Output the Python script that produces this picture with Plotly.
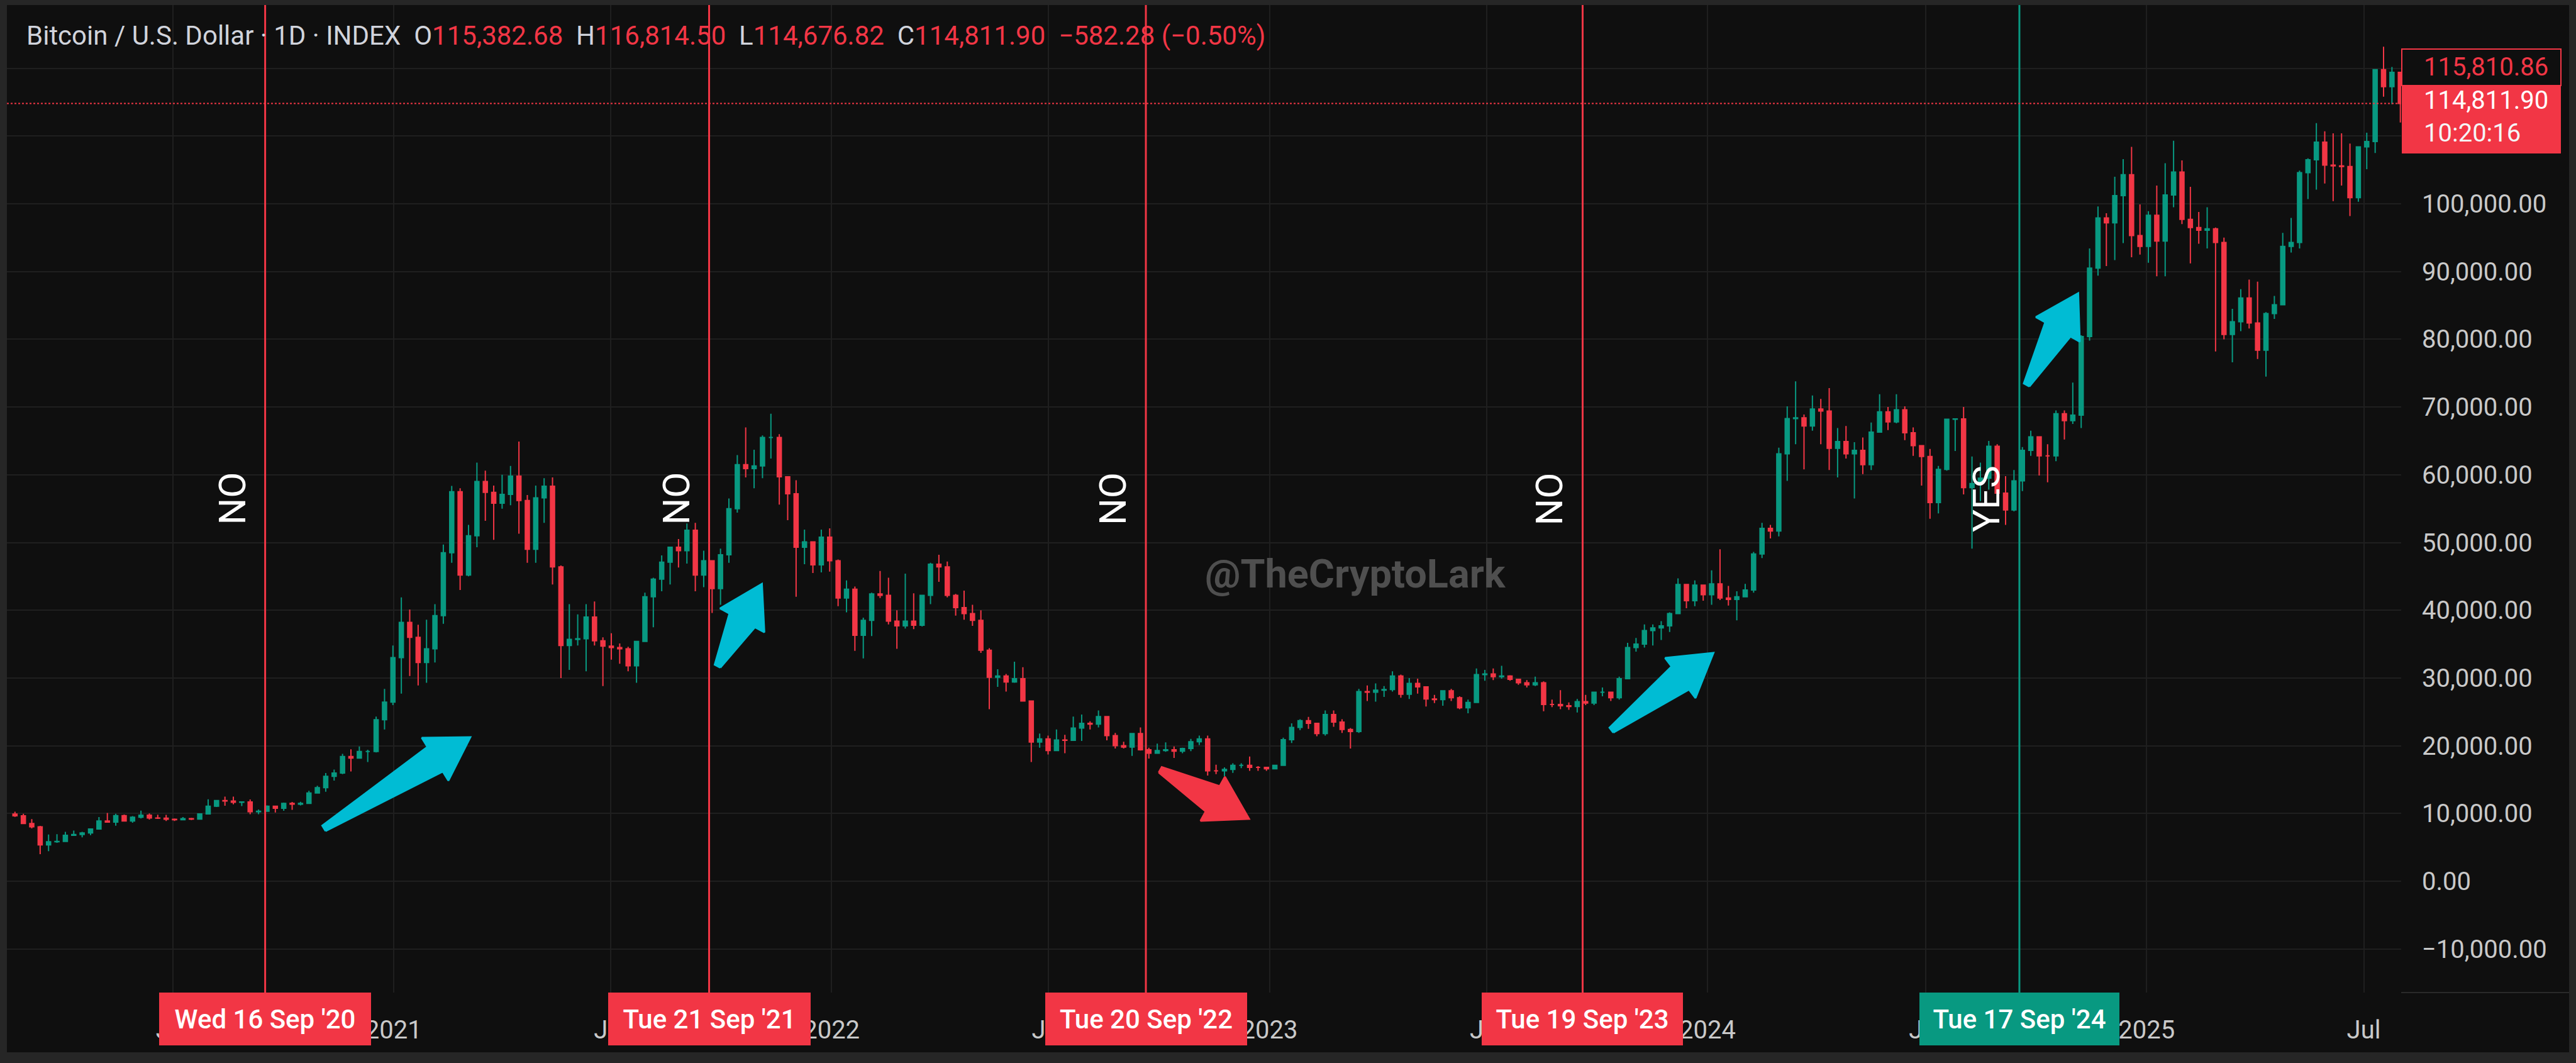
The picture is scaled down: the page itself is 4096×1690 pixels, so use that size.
import pandas as pd
import plotly.graph_objects as go

# ---------------- data (weekly candles) ----------------
week_start = "2020-02-17"
first_open = 9910

close_2020 = [9660, 8530, 8030, 5370, 5830, 5880, 6770, 6900, 7120, 7700, 8900, 8720, 9680, 8900, 9450,
              9750, 9340, 9300, 9150, 9070, 9230, 9180, 9930, 11070, 11900, 11850, 11650, 11700, 10250,
              10330, 11080, 10780, 11500, 11380, 11500, 13030, 13800, 15480, 15960, 18410, 18180, 19150,
              19150, 23850, 26450, 33000]
high_2020 = [10250, 9950, 9180, 8170, 6900, 6950, 7290, 7470, 7300, 7780, 9470, 10070, 9950, 9850, 9600,
             10430, 10000, 9830, 9790, 9270, 9460, 9350, 10030, 12100, 12000, 12480, 12480, 11800, 12080,
             10580, 11180, 10980, 11600, 11700, 11720, 13340, 14100, 15960, 16480, 18800, 19480, 19900,
             19400, 24300, 28400, 34800]
low_2020 = [9500, 8450, 7800, 4000, 4440, 5670, 5860, 6770, 6470, 6800, 7650, 8660, 8200, 8800, 8640,
            9260, 9100, 9200, 8900, 8900, 9050, 9040, 9130, 9900, 10950, 11150, 11350, 11100, 9900,
            9880, 10250, 10150, 10400, 10550, 11200, 11400, 12980, 13200, 14850, 15800, 16200, 18200,
            17600, 19000, 22400, 26000]

close_2021 = [38200, 36000, 32300, 34300, 39200, 48500, 57500, 45200, 51000, 59000, 57400, 55800, 57100,
              59800, 56200, 49000, 56600, 58300, 46400, 34800, 35700, 35800, 39000, 35500, 34700, 34500,
              34300, 31800, 35400, 42000, 44600, 47100, 49300, 48800, 51800, 45200, 47300, 43200, 48200,
              55000, 61500, 60900, 61300, 65500, 65500, 59700, 57200, 49300, 50100, 46700, 50800, 47300]
high_2021 = [41900, 40100, 37850, 38600, 40900, 49700, 58350, 58000, 52600, 61800, 60600, 58400, 60000,
             61300, 64900, 57000, 58400, 59500, 59600, 46600, 40900, 39400, 40900, 41300, 36000, 36600,
             35100, 34600, 35400, 42600, 44800, 48100, 49400, 50500, 52800, 52900, 48800, 45200, 49100,
             56500, 62900, 67000, 63700, 65800, 69000, 66000, 59400, 59200, 51900, 49500, 51900, 52100]
low_2021 = [27700, 30300, 28900, 29300, 32300, 38000, 47000, 43000, 45000, 49300, 53200, 50400, 55000,
            55500, 51300, 47000, 47000, 52900, 43800, 30000, 31200, 34800, 31000, 34800, 28800, 32700,
            32100, 31000, 29300, 35300, 37500, 42800, 43800, 46300, 46900, 42800, 43400, 39600, 40800,
            47000, 54400, 59600, 58000, 59500, 62400, 55600, 53300, 42000, 46800, 45500, 45600, 45700]

close_2022 = [41800, 43100, 36300, 38500, 42400, 42200, 38400, 37700, 38400, 37800, 42200, 46800, 46400,
              42200, 40400, 39500, 38500, 34100, 30100, 30300, 29400, 29900, 26600, 20550, 21000, 19300,
              20850, 20800, 22600, 23300, 23200, 24300, 21500, 20000, 19800, 21800, 19400, 18900, 19300,
              19400, 19200, 19600, 20600, 21000, 16300, 16300, 16500, 17100, 17100, 16800, 16800, 16600]
high_2022 = [47500, 44400, 43500, 38900, 42600, 45800, 44800, 40000, 45400, 42500, 42300, 47000, 48200,
             47200, 42400, 42900, 40800, 40000, 34400, 31300, 30600, 32400, 31600, 26700, 21800, 21500,
             22400, 21600, 24300, 24600, 23600, 25200, 24400, 21900, 20600, 21800, 22700, 19700, 20300,
             20500, 19900, 19700, 21000, 21500, 21500, 17200, 16800, 17400, 17400, 18400, 17000, 16900]
low_2022 = [40600, 39700, 34000, 32900, 36200, 41800, 37900, 34300, 37300, 37200, 37600, 40900, 44200,
            41900, 39200, 38600, 37700, 33700, 25400, 28700, 28000, 29300, 26500, 17600, 19700, 18700,
            19300, 18900, 21000, 20700, 22400, 22700, 20800, 19600, 19600, 18500, 19300, 18100, 18800,
            19100, 18200, 18900, 19200, 20100, 15600, 15800, 15500, 16000, 16700, 16300, 16300, 16300]

close_2023 = [17100, 20900, 22700, 23700, 23300, 21800, 24600, 23500, 22400, 22100, 28000, 27900, 28200,
              28300, 30300, 27600, 29200, 28700, 26900, 26800, 28100, 27100, 25600, 26400, 30500, 30600,
              30200, 30300, 29800, 29300, 29000, 29300, 26100, 26100, 25900, 25800, 26500, 26300, 27900,
              27900, 27100, 29900, 34500, 35000, 37000, 37400, 37700, 39500, 43800, 41400, 43700, 42300]
high_2023 = [17200, 21200, 23300, 23900, 24250, 23400, 25200, 25200, 23900, 22600, 28400, 28900, 29200,
             28800, 31000, 30500, 30000, 29900, 28000, 27500, 28200, 28400, 27300, 26800, 31400, 31200,
             31400, 31800, 30400, 29900, 29700, 30200, 29500, 26800, 28200, 26400, 26900, 27500, 28000,
             28600, 28000, 30200, 35200, 35900, 37900, 37900, 38400, 39700, 44700, 43400, 44400, 43800]
low_2023 = [16500, 17100, 20400, 22300, 22500, 21400, 21500, 22800, 21900, 19600, 21900, 26600, 26500,
            27200, 28000, 27100, 26900, 27700, 25800, 26300, 25900, 26600, 25400, 24800, 26300, 29600,
            29700, 29900, 29600, 29000, 28600, 28800, 25100, 25700, 25400, 25300, 24900, 26000, 26000,
            27300, 26600, 26800, 29900, 33900, 34500, 34800, 35600, 36800, 39500, 40300, 40600, 41400]

close_2024 = [43900, 41800, 41600, 42000, 43000, 48300, 52100, 51700, 63100, 68300, 68400, 67200, 69700,
              69400, 63900, 64900, 63100, 63600, 61500, 66300, 69300, 67800, 69600, 66200, 64300, 62700,
              55900, 60800, 68200, 68250, 58100, 58700, 59500, 64200, 57300, 54800, 59100, 63600, 65600,
              62800, 62800, 69000, 68000, 68800, 80400, 90500, 97900, 97200, 101200, 104300, 95300,
              93700, 98300]
high_2024 = [45900, 49000, 43600, 42800, 43900, 48600, 52900, 52600, 64000, 70100, 73800, 68900, 71700,
             71200, 72800, 66900, 67200, 64800, 65500, 67700, 71900, 70000, 71900, 70100, 67000, 63400,
             63800, 61300, 68300, 68300, 70000, 62700, 61800, 65000, 64500, 59800, 60700, 64100, 66500,
             65400, 64500, 69500, 69500, 73600, 80600, 93400, 99600, 98600, 104000, 106600, 108400,
             99900, 98900]
low_2024 = [40800, 41500, 40700, 38500, 41900, 42600, 47700, 50600, 50900, 59100, 64500, 60800, 66500,
            64500, 60700, 59600, 62400, 56500, 60100, 60700, 66600, 66600, 67600, 65100, 62800, 58400,
            53500, 54300, 60600, 63500, 57100, 49100, 56100, 57800, 57200, 52600, 54600, 57600, 62800,
            59900, 58900, 62000, 65200, 67500, 66900, 79800, 89400, 90800, 91700, 94200, 92100,
            92500, 91300]

close_2025 = [94500, 101300, 104700, 97700, 96500, 96100, 96300, 94300, 80700, 82600, 86100, 82400, 78400,
              83800, 85100, 93700, 94300, 104600, 106500, 109100, 105700, 105600, 105500, 100900, 108400,
              109200, 119800, 117300, 119400, 114811.90]
high_2025 = [102700, 106000, 109300, 106400, 102500, 98800, 99500, 96500, 95000, 84500, 87400, 88800, 88500,
             84000, 86400, 95700, 97900, 104900, 106700, 111900, 110700, 110400, 110400, 108900, 108500,
             110500, 119900, 123200, 120200, 119300]
low_2025 = [89300, 89300, 99500, 97000, 91200, 94100, 93400, 78200, 80000, 76600, 81200, 81600, 77100,
            74500, 83000, 85100, 92800, 93400, 100700, 102100, 103000, 100400, 102700, 98200, 100300,
            105100, 107500, 115800, 114700, 112000]

# event markers
event_dates = ["2020-09-16", "2021-09-21", "2022-09-20", "2023-09-19", "2024-09-17"]
event_labels = ["Wed 16 Sep '20", "Tue 21 Sep '21", "Tue 20 Sep '22", "Tue 19 Sep '23", "Tue 17 Sep '24"]
event_verdicts = ["NO", "NO", "NO", "NO", "YES"]
event_good = [False, False, False, False, True]

# drawn arrows (tail -> tip)
arrow_tail_dates = ["2020-11-04", "2021-09-28", "2022-10-02", "2023-10-13", "2024-09-23"]
arrow_tail_prices = [7800, 31750, 16450, 22300, 73250]
arrow_tip_dates = ["2021-03-06", "2021-11-04", "2022-12-15", "2024-01-06", "2024-11-05"]
arrow_tip_prices = [21250, 43900, 9200, 33700, 86800]
arrow_up = [True, True, False, True, True]

# axis ticks
x_tick_dates = ["2020-07-01", "2021-01-01", "2021-07-01", "2022-01-01", "2022-07-01", "2023-01-01",
                "2023-07-01", "2024-01-01", "2024-07-01", "2025-01-01", "2025-07-01"]
x_tick_text = ["Jul", "2021", "Jul", "2022", "Jul", "2023", "Jul", "2024", "Jul", "2025", "Jul"]
y_tick_vals = list(range(-10000, 130000, 10000))

# header / price labels
symbol_text = "Bitcoin / U.S. Dollar · 1D · INDEX"
ohlc_open, ohlc_high, ohlc_low, ohlc_close = "115,382.68", "116,814.50", "114,676.82", "114,811.90"
change_text = "−582.28 (−0.50%)"
line_price = 114811.90
upper_label = "115,810.86"
countdown = "10:20:16"
watermark = "@TheCryptoLark"

# ---------------- style / geometry ----------------
W, H = 4096, 1690
L, R, T, B = 11, 3818, 8, 1578          # plot area in pixels
PX_PER_DAY = 1.9079
ANCHOR_DATE, ANCHOR_PX = pd.Timestamp("2020-09-16"), 421.6
PX_PER_10K = 107.7
ZERO_PY = 1401.0
DATE_BOX_W = [337, 322, 321, 320, 318]
DATE_BOX_H = 84

RED, GREEN, CYAN = "#f23645", "#089981", "#00bcd4"
BG, FRAME, GRID, TXT = "#0f0f0f", "#262626", "#1f1f1f", "#c9c9c9"
FONT = "Roboto"

x0 = ANCHOR_DATE - pd.Timedelta(days=(ANCHOR_PX - L) / PX_PER_DAY)
x1 = x0 + pd.Timedelta(days=(R - L) / PX_PER_DAY)
y1 = (ZERO_PY - T) / PX_PER_10K * 10000
y0 = -(B - ZERO_PY) / PX_PER_10K * 10000


def px_to_date(px):
    return x0 + pd.Timedelta(days=(px - L) / PX_PER_DAY)


def date_to_px(d):
    return L + (pd.Timestamp(d) - x0) / pd.Timedelta(days=1) * PX_PER_DAY


def price_to_py(p):
    return B - (p - y0) / (y1 - y0) * (B - T)


def py_to_price(py):
    return y0 + (B - py) / (B - T) * (y1 - y0)


def xp(px):
    return (px - L) / (R - L)


def yp(py):
    return (B - py) / (B - T)


# ---------------- assemble candles ----------------
closes = close_2020 + close_2021 + close_2022 + close_2023 + close_2024 + close_2025
highs = high_2020 + high_2021 + high_2022 + high_2023 + high_2024 + high_2025
lows = low_2020 + low_2021 + low_2022 + low_2023 + low_2024 + low_2025
opens = [first_open] + closes[:-1]
highs = [max(h, o, c) for h, o, c in zip(highs, opens, closes)]
lows = [min(l, o, c) for l, o, c in zip(lows, opens, closes)]
dates = pd.date_range(week_start, periods=len(closes), freq="7D") + pd.Timedelta(hours=84)

fig = go.Figure()

# arrows
for td, tp, hd, hp, up in zip(arrow_tail_dates, arrow_tail_prices, arrow_tip_dates, arrow_tip_prices, arrow_up):
    tx, ty = date_to_px(td), price_to_py(tp)
    hx, hy = date_to_px(hd), price_to_py(hp)
    dx, dy = hx - tx, hy - ty
    ln = (dx * dx + dy * dy) ** 0.5
    ux, uy = dx / ln, dy / ln
    nx, ny = -uy, ux
    hl, hw, nw, tw = 66, 40, 23, 5
    kx, ky = hx - ux * hl, hy - uy * hl
    pts = [(tx + nx * tw, ty + ny * tw), (kx + nx * nw, ky + ny * nw), (kx + nx * hw, ky + ny * hw),
           (hx, hy), (kx - nx * hw, ky - ny * hw), (kx - nx * nw, ky - ny * nw),
           (tx - nx * tw, ty - ny * tw), (tx + nx * tw, ty + ny * tw)]
    col = CYAN if up else RED
    fig.add_trace(go.Scatter(x=[px_to_date(p[0]) for p in pts], y=[py_to_price(p[1]) for p in pts],
                             mode="lines", fill="toself", fillcolor=col,
                             line=dict(color=col, width=3), hoverinfo="skip", showlegend=False))

fig.add_trace(go.Candlestick(
    x=dates, open=opens, high=highs, low=lows, close=closes,
    increasing=dict(line=dict(color=GREEN, width=2), fillcolor=GREEN),
    decreasing=dict(line=dict(color=RED, width=2), fillcolor=RED),
    whiskerwidth=0, hoverinfo="skip", showlegend=False))

shapes = []
annotations = []

# background panel (frame is the paper colour)
shapes.append(dict(type="rect", xref="paper", yref="paper", x0=xp(L), x1=xp(4085), y0=yp(1673), y1=yp(T),
                   fillcolor=BG, line=dict(width=0), layer="below"))
shapes.append(dict(type="line", xref="paper", yref="paper", x0=xp(R), x1=xp(4085), y0=0, y1=0,
                   line=dict(color="#2a2a2a", width=2), layer="above"))

# event lines, date boxes and verdict texts
for d, lab, verdict, good, bw in zip(event_dates, event_labels, event_verdicts, event_good, DATE_BOX_W):
    col = GREEN if good else RED
    shapes.append(dict(type="line", xref="x", yref="paper", x0=d, x1=d, y0=0, y1=1,
                       line=dict(color=col, width=3), layer="above"))
    annotations.append(dict(x=d, xref="x", y=yp(1620), yref="paper", text=lab, showarrow=False,
                            xanchor="center", yanchor="middle", bgcolor=col, borderpad=0, borderwidth=0,
                            width=bw, height=DATE_BOX_H, align="center", valign="middle",
                            font=dict(family=FONT, size=42, color="white", weight=500)))
    annotations.append(dict(x=px_to_date(date_to_px(d) - 53), xref="x", y=yp(793), yref="paper",
                            text=verdict, textangle=-90, showarrow=False, xanchor="center",
                            yanchor="middle", font=dict(family=FONT, size=60, color="white")))

# current price line and right-hand labels
shapes.append(dict(type="line", xref="paper", yref="y", x0=0, x1=1, y0=line_price, y1=line_price,
                   line=dict(color=RED, width=2, dash="dot"), layer="above"))
shapes.append(dict(type="rect", xref="paper", yref="paper", x0=xp(3819), x1=xp(4072), y0=yp(136), y1=yp(78),
                   fillcolor=BG, line=dict(color=RED, width=2), layer="above"))
shapes.append(dict(type="rect", xref="paper", yref="paper", x0=xp(3819), x1=xp(4072), y0=yp(244), y1=yp(136),
                   fillcolor=RED, line=dict(width=0), layer="above"))
for txt, py, col in [(upper_label, 107, RED), (ohlc_close, 160, "white"), (countdown, 212, "#f5f5f5")]:
    annotations.append(dict(x=xp(3852), y=yp(py), xref="paper", yref="paper", text=txt, showarrow=False,
                            xanchor="left", yanchor="middle", font=dict(family=FONT, size=40, color=col)))

# header legend
sp = "\u00a0\u00a0"
hdr = (f"{symbol_text}{sp}O<span style='color:{RED}'>{ohlc_open}</span>{sp}"
       f"H<span style='color:{RED}'>{ohlc_high}</span>{sp}L<span style='color:{RED}'>{ohlc_low}</span>{sp}"
       f"C<span style='color:{RED}'>{ohlc_close}</span>{sp}<span style='color:{RED}'>{change_text}</span>")
annotations.append(dict(x=xp(40), y=yp(57), xref="paper", yref="paper", text=hdr, showarrow=False,
                        xanchor="left", yanchor="middle", font=dict(family=FONT, size=42, color="#d1d4dc")))

# watermark
annotations.append(dict(x=xp(2155), y=yp(912), xref="paper", yref="paper", text=watermark, showarrow=False,
                        xanchor="center", yanchor="middle",
                        font=dict(family=FONT, size=63, color="#4f4f4f", weight="bold")))


def fmt(v):
    if v > 100000:
        return ""
    s = f"{abs(v):,.2f}"
    return ("−" + s) if v < 0 else s


fig.update_layout(
    width=W, height=H, margin=dict(l=L, r=W - R, t=T, b=H - B, autoexpand=False),
    paper_bgcolor=FRAME, plot_bgcolor="rgba(0,0,0,0)", showlegend=False,
    font=dict(family=FONT, size=40, color=TXT),
    shapes=shapes, annotations=annotations,
    xaxis=dict(type="date", range=[x0, x1], tickvals=x_tick_dates, ticktext=x_tick_text,
               showgrid=True, gridcolor=GRID, gridwidth=2, zeroline=False, showline=False,
               ticks="", ticklabelstandoff=32, tickfont=dict(family=FONT, size=40, color=TXT),
               rangeslider=dict(visible=False), fixedrange=True, automargin=False),
    yaxis=dict(side="right", range=[y0, y1], tickvals=y_tick_vals, ticktext=[fmt(v) for v in y_tick_vals],
               showgrid=True, gridcolor=GRID, gridwidth=2, zeroline=False, showline=False,
               ticks="", ticklabelstandoff=32, tickfont=dict(family=FONT, size=40, color=TXT),
               fixedrange=True, automargin=False),
)

fig.write_html("out.html", config={"displayModeBar": False},
               post_script="document.body.style.margin='0';document.body.style.overflow='hidden';")
